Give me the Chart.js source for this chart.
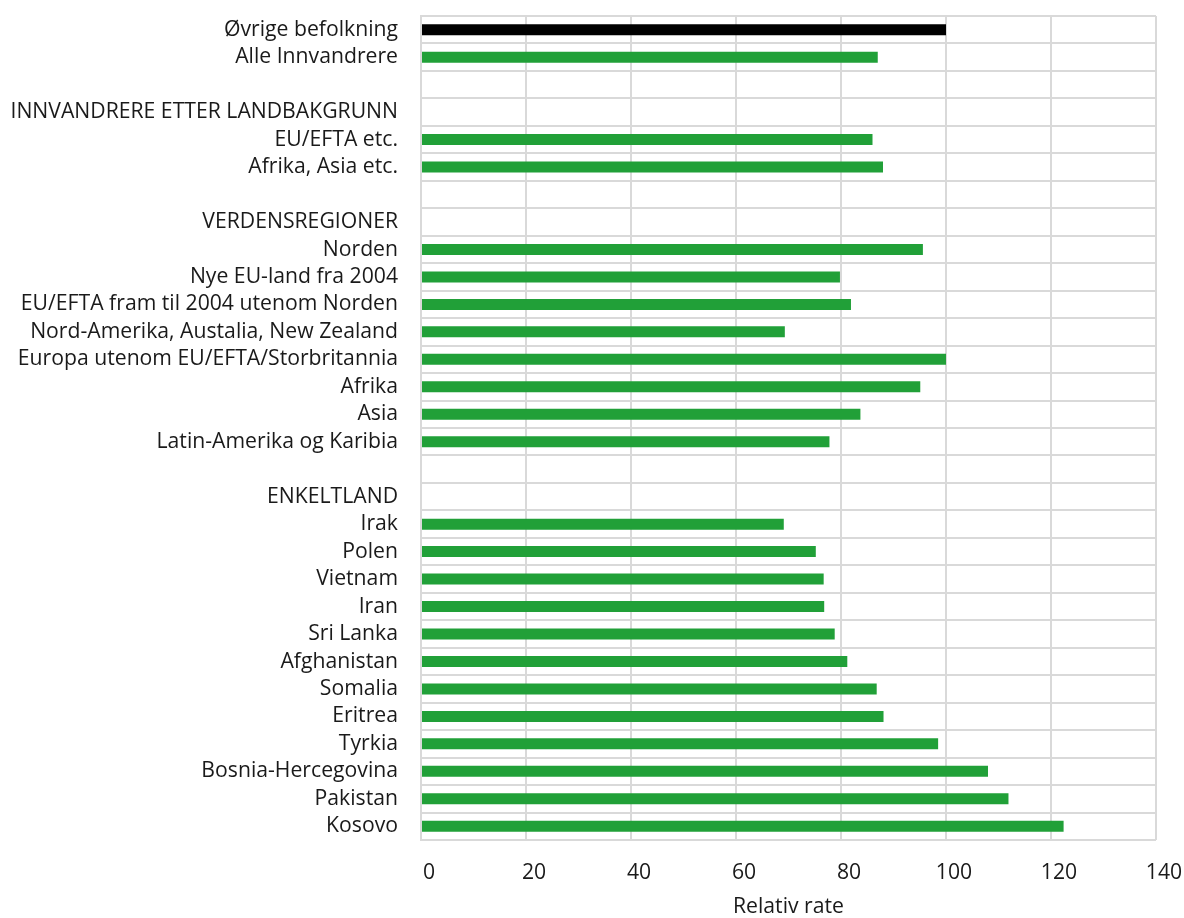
<!DOCTYPE html>
<html>
<head>
<meta charset="utf-8">
<script src="https://cdn.jsdelivr.net/npm/chart.js@4"></script>
<style>
  html, body { margin: 0; padding: 0; background: #ffffff; }
  #wrap { width: 1184px; height: 918px; position: relative; }
</style>
</head>
<body>
<div id="wrap"><canvas id="c" width="1184" height="918"></canvas></div>
<script>
const categories = [
  "Øvrige befolkning",
  "Alle Innvandrere",
  "",
  "INNVANDRERE ETTER LANDBAKGRUNN",
  "EU/EFTA etc.",
  "Afrika, Asia etc.",
  "",
  "VERDENSREGIONER",
  "Norden",
  "Nye EU-land fra 2004",
  "EU/EFTA fram til 2004 utenom Norden",
  "Nord-Amerika, Austalia, New Zealand",
  "Europa utenom EU/EFTA/Storbritannia",
  "Afrika",
  "Asia",
  "Latin-Amerika og Karibia",
  "",
  "ENKELTLAND",
  "Irak",
  "Polen",
  "Vietnam",
  "Iran",
  "Sri Lanka",
  "Afghanistan",
  "Somalia",
  "Eritrea",
  "Tyrkia",
  "Bosnia-Hercegovina",
  "Pakistan",
  "Kosovo"
];
const relativeRate = [
  100, 87, null, null, 86, 88, null, null,
  95.6, 79.8, 81.9, 69.3, 100, 95.1, 83.7, 77.8,
  null, null,
  69.1, 75.2, 76.7, 76.8, 78.8, 81.2, 86.8, 88.1, 98.5, 108.0, 111.9, 122.4
];
const referenceIndex = 0;
const xTicks = [0, 20, 40, 60, 80, 100, 120, 140];
const axisTitle = "Relativ rate";

const GREEN = "#21a038";
const BLACK = "#000000";
const GRID = "#d9d9d9";
const TEXT = "#1a1a1a";
const FONT = "'Open Sans', 'Noto Sans', sans-serif";
const FS = 21.2;

new Chart(document.getElementById("c"), {
  type: "bar",
  data: {
    labels: categories,
    datasets: [{
      data: relativeRate,
      backgroundColor: (ctx) => ctx.dataIndex === referenceIndex ? BLACK : GREEN,
      borderWidth: 0,
      barPercentage: 0.4,
      categoryPercentage: 1.0
    }]
  },
  options: {
    indexAxis: "y",
    responsive: false,
    animation: false,
    devicePixelRatio: 1,
    layout: { padding: { left: 8, right: 28, top: 16, bottom: 0 } },
    plugins: { legend: { display: false }, tooltip: { enabled: false } },
    scales: {
      x: {
        type: "linear",
        min: xTicks[0],
        max: xTicks[xTicks.length - 1],
        afterBuildTicks: (scale) => { scale.ticks = xTicks.map(v => ({ value: v })); },
        afterFit: (scale) => { scale.height = 78; scale.paddingLeft = 0; scale.paddingRight = 0; },
        grid: { color: GRID, lineWidth: 2, drawTicks: false },
        border: { display: false },
        ticks: {
          color: TEXT,
          font: { family: FONT, size: FS },
          padding: 20,
          labelOffset: 8,
          maxRotation: 0,
          autoSkip: false
        },
        title: {
          display: true,
          text: axisTitle,
          color: TEXT,
          font: { family: FONT, size: FS, lineHeight: 1 },
          padding: { top: 0, bottom: 0 }
        }
      },
      y: {
        afterFit: (scale) => { scale.width = 413; scale.paddingTop = 0; scale.paddingBottom = 0; },
        grid: { color: GRID, lineWidth: 2, drawTicks: false, offset: true },
        border: { color: GRID, width: 2 },
        ticks: {
          color: TEXT,
          font: { family: FONT, size: FS },
          padding: 23,
          autoSkip: false
        }
      }
    }
  }
});
</script>
</body>
</html>
